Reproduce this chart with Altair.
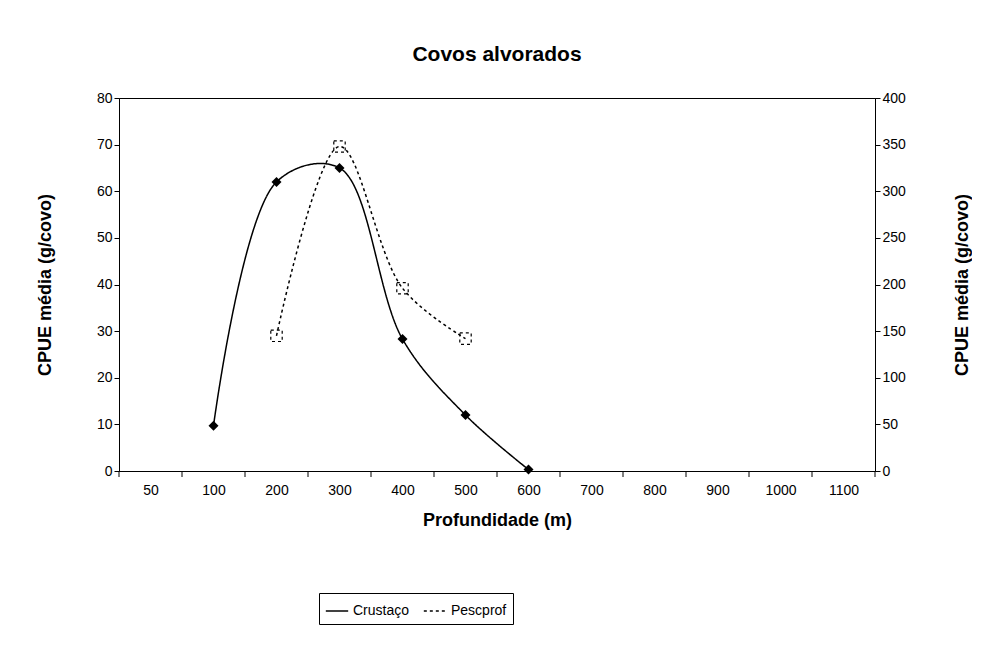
import altair as alt
import pandas as pd

cats = ["50","100","200","300","400","500","600","700","800","900","1000","1100"]
crust_depth = ["100","200","300","400","500","600"]
crust_vals = [9.7, 62, 65, 28.3, 12, 0.3]
pesc_depth = ["200","300","400","500"]
pesc_vals = [145, 348, 196, 142]

def idx(d): return cats.index(d)
dc = pd.DataFrame({"i":[idx(d) for d in crust_depth],"v":crust_vals,"s":"Crustaço"})
dp = pd.DataFrame({"i":[idx(d) for d in pesc_depth],"v":pesc_vals,"s":"Pescprof"})
bounds = pd.DataFrame({"i":[i-0.5 for i in range(len(cats)+1)]})

F = "Liberation Sans"
arr = "[" + ",".join(f"'{c}'" for c in cats) + "]"
xs = alt.Scale(domain=[-0.5, len(cats)-0.5], nice=False, zero=False)
xax = alt.Axis(values=list(range(len(cats))), labelExpr=f"{arr}[datum.value]", ticks=False,
               grid=False, title="Profundidade (m)", labelPadding=12, titlePadding=14)
X = alt.X("i:Q", scale=xs, axis=xax)

sdom = ["Crustaço","Pescprof"]
dash = alt.StrokeDash("s:N", scale=alt.Scale(domain=sdom, range=[[1,0],[3,3]]),
                      legend=alt.Legend(title=None, orient="none", direction="horizontal",
                                        legendX=200, legendY=495,
                                        strokeColor="black", padding=6, labelFont=F, labelFontSize=14,
                                        symbolSize=500, symbolStrokeWidth=1.5, labelColor="black"))

left = alt.Chart(dc).encode(X, y=alt.Y("v:Q", scale=alt.Scale(domain=[0,80]),
        axis=alt.Axis(tickCount=8, grid=False, title="CPUE média (g/covo)", titlePadding=42)),
        strokeDash=dash)
lline = left.mark_line(color="black", interpolate="catmull-rom", strokeWidth=1.5)
lpt = left.mark_point(color="black", filled=True, shape="diamond", size=100, opacity=1)

right = alt.Chart(dp).encode(X, y=alt.Y("v:Q", scale=alt.Scale(domain=[0,400]),
        axis=alt.Axis(orient="right", values=list(range(0,401,50)), grid=False, titleAngle=270,
                      title="CPUE média (g/covo)", titlePadding=66)),
        strokeDash=dash)
rline = right.mark_line(color="black", interpolate="catmull-rom", strokeWidth=1.5)
rpt = right.mark_point(color="black", filled=False, shape="square", size=130, opacity=1, strokeWidth=1.2)

ticks = alt.Chart(bounds).mark_rule(color="black").encode(
    x=alt.X("i:Q", scale=xs, axis=xax), y=alt.value(373), y2=alt.value(379))

chart = alt.layer(alt.layer(lline, lpt), alt.layer(rline, rpt), ticks).resolve_scale(
    y="independent").properties(
    width=756, height=373,
    padding={"left":28,"right":0,"top":36,"bottom":10},
    title=alt.Title("Covos alvorados", font=F, fontSize=21, fontWeight="bold", offset=26),
).configure_axis(labelFont=F, labelFontSize=14, titleFont=F, titleFontSize=18, titleFontWeight="bold",
    domainColor="black", tickColor="black", labelColor="black", titleColor="black"
).configure_view(stroke="black")

chart.save("out.html", embed_options={"renderer": "svg", "actions": False})
